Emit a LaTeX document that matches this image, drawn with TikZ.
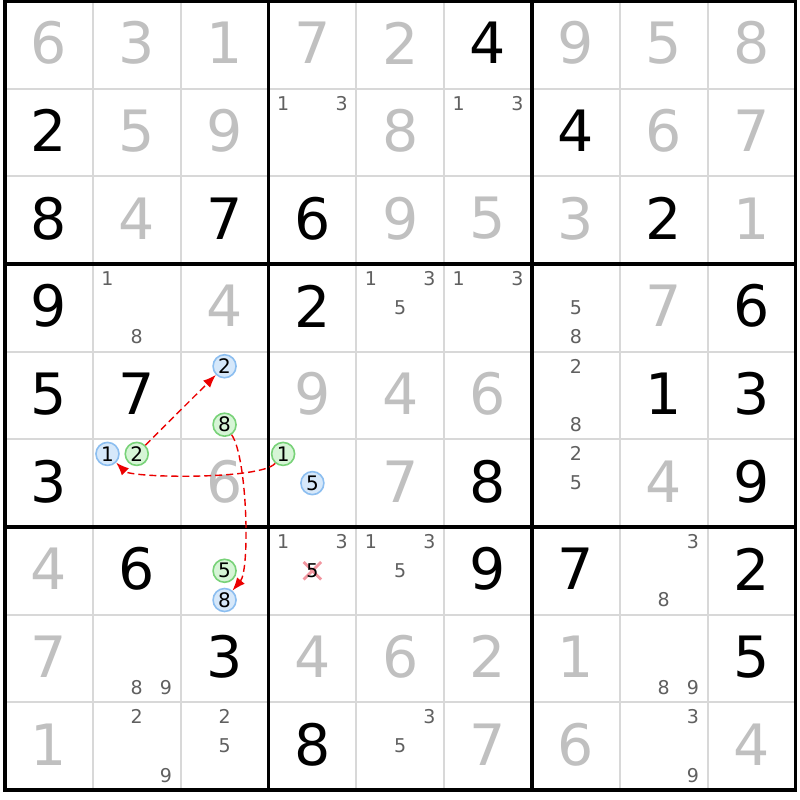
\documentclass[tikz,border=0pt]{standalone}
\usepackage{fontspec}
\setmainfont{DejaVu Sans}
\usetikzlibrary{arrows.meta,calc}

\definecolor{givengray}{RGB}{192,192,192}
\definecolor{candgray}{RGB}{96,96,96}
\definecolor{gridgray}{RGB}{216,216,216}
\definecolor{onblue}{RGB}{214,232,250}
\definecolor{onbluedraw}{RGB}{140,190,240}
\definecolor{offgreen}{RGB}{214,245,214}
\definecolor{offgreendraw}{RGB}{120,210,120}
\definecolor{linkred}{RGB}{235,0,0}
\definecolor{crosspink}{RGB}{242,150,160}

\begin{document}
\begin{tikzpicture}[x=87.83pt,y=-87.67pt,
    solved/.style={font=\fontsize{57}{60}\selectfont,inner sep=0pt},
    cand/.style={font=\fontsize{19}{20}\selectfont,text=candgray,inner sep=0pt},
    oncand/.style={circle,draw=onbluedraw,fill=onblue,line width=1.6pt,minimum size=23pt,inner sep=0pt,font=\fontsize{20}{20}\selectfont},
    offcand/.style={oncand,draw=offgreendraw,fill=offgreen},
    link/.style={linkred,dashed,dash pattern=on 7pt off 4pt,line width=1.4pt,-{Latex[length=13pt,width=10pt]}}]
        \useasboundingbox (-0.057,-0.011) rectangle (9.052,9.114);
        \fill[white] (-0.057,-0.011) rectangle (9.052,9.114);

        % Grid
        \foreach \i in {1,2,4,5,7,8} {
            \draw[gridgray,line width=2pt] (\i,0) -- (\i,9);
            \draw[gridgray,line width=2pt] (0,\i) -- (9,\i);
        }
        \foreach \i in {3,6} {
            \draw[line width=3.5pt] (\i,0) -- (\i,9);
            \draw[line width=3.5pt] (0,\i) -- (9,\i);
        }
        \draw[line width=3.5pt] (0,0) rectangle (9,9);

        % Given digits
        \foreach \c/\r/\n in {1/1/6,2/1/3,3/1/1,4/1/7,5/1/2,7/1/9,8/1/5,9/1/8,
            2/2/5,3/2/9,5/2/8,8/2/6,9/2/7,2/3/4,5/3/9,6/3/5,7/3/3,9/3/1,
            3/4/4,8/4/7,4/5/9,5/5/4,6/5/6,3/6/6,5/6/7,8/6/4,1/7/4,
            1/8/7,4/8/4,5/8/6,6/8/2,7/8/1,1/9/1,6/9/7,7/9/6,9/9/4}
            \node[solved,text=givengray] (g\c\r) at (\c-0.5,\r-0.52) {\n};

        % Solved digits
        \foreach \c/\r/\n in {6/1/4,1/2/2,7/2/4,1/3/8,3/3/7,4/3/6,8/3/2,
            1/4/9,4/4/2,9/4/6,1/5/5,2/5/7,8/5/1,9/5/3,1/6/3,6/6/8,9/6/9,
            2/7/6,6/7/9,7/7/7,9/7/2,3/8/3,9/8/5,4/9/8}
            \node[solved] (s\c\r) at (\c-0.5,\r-0.52) {\n};

        % Candidates
        \foreach \c/\r/\n in {4/2/1,4/2/3,6/2/1,6/2/3,2/4/1,2/4/8,5/4/1,5/4/3,5/4/5,
            6/4/1,6/4/3,7/4/5,7/4/8,7/5/2,7/5/8,7/6/2,7/6/5,4/7/1,4/7/3,
            5/7/1,5/7/3,5/7/5,8/7/3,8/7/8,2/8/8,2/8/9,8/8/8,8/8/9,
            2/9/2,2/9/9,3/9/2,3/9/5,5/9/3,5/9/5,8/9/3,8/9/9}
            \node[cand] (c\c\r\n) at ({\c-1+(2*mod(\n-1,3)+1)/6},{\r-1+(2*int((\n-1)/3)+1)/6}) {\n};

        % Eliminated candidate
        \draw[crosspink,line width=2.8pt] (3.4,6.4) -- (3.6,6.6) (3.4,6.6) -- (3.6,6.4);
        \node[cand,text=black] (r7c4n5) at (3.5,6.5) {5};

        % Chain
        \node[oncand] (r5c3n2) at (2.5,4.1667) {2};
        \node[offcand] (r5c3n8) at (2.5,4.8333) {8};
        \node[oncand] (r6c2n1) at (1.1667,5.1667) {1};
        \node[offcand] (r6c2n2) at (1.5,5.1667) {2};
        \node[offcand] (r6c4n1) at (3.1667,5.1667) {1};
        \node[oncand] (r6c4n5) at (3.5,5.5) {5};
        \node[offcand] (r7c3n5) at (2.5,6.5) {5};
        \node[oncand] (r7c3n8) at (2.5,6.8333) {8};

        \draw[link] (r6c2n2) -- (r5c3n2);
        \draw[link] (r6c4n1) to[out=230,in=-45,looseness=0.35] (r6c2n1);
        \draw[link] (r5c3n8) to[out=-55,in=50,looseness=0.45] (r7c3n8);
    \end{tikzpicture}
\end{document}
